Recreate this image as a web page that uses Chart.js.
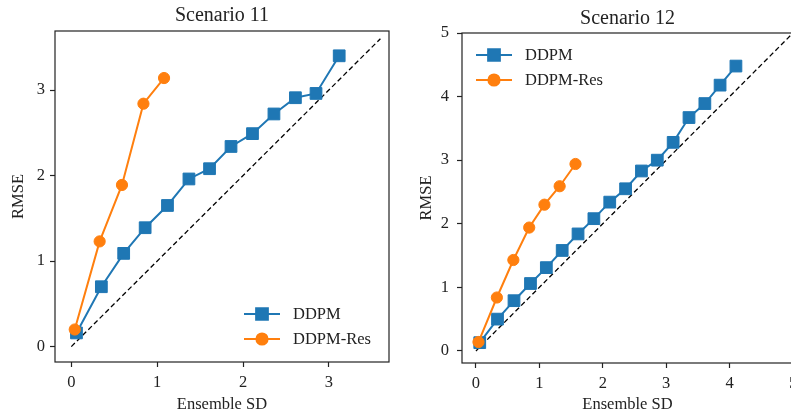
<!DOCTYPE html>
<html>
<head>
<meta charset="utf-8">
<script src="https://cdn.jsdelivr.net/npm/chart.js@4.4.1/dist/chart.umd.min.js"></script>
<style>
  html, body { margin: 0; padding: 0; background: #fff; overflow: hidden; }
  #wrap { position: relative; width: 791px; height: 413px; overflow: hidden; }
  canvas { position: absolute; top: 0; }
  #c11 { left: 0; }
  #c12 { left: 400px; }
</style>
</head>
<body>
<div id="wrap">
  <canvas id="c11" width="444" height="413"></canvas>
  <canvas id="c12" width="455" height="413"></canvas>
</div>
<script>
// Scenario 11
var s11SdDdpm   = [0.06, 0.35, 0.61, 0.86, 1.12, 1.37, 1.61, 1.86, 2.11, 2.36, 2.61, 2.85, 3.12];
var s11RmseDdpm = [0.16, 0.70, 1.09, 1.39, 1.65, 1.96, 2.08, 2.34, 2.49, 2.72, 2.91, 2.96, 3.40];
var s11SdRes    = [0.04, 0.33, 0.59, 0.84, 1.08];
var s11RmseRes  = [0.20, 1.23, 1.89, 2.84, 3.14];
var s11Diag     = [0, 3.6];
var s11XTicks   = [0, 1, 2, 3];
var s11YTicks   = [0, 1, 2, 3];

// Scenario 12
var s12SdDdpm   = [0.06, 0.34, 0.60, 0.86, 1.11, 1.36, 1.61, 1.86, 2.11, 2.36, 2.61, 2.86, 3.11, 3.36, 3.61, 3.85, 4.10];
var s12RmseDdpm = [0.13, 0.50, 0.79, 1.06, 1.31, 1.58, 1.84, 2.08, 2.34, 2.55, 2.83, 3.00, 3.28, 3.67, 3.89, 4.18, 4.48];
var s12SdRes    = [0.04, 0.33, 0.59, 0.84, 1.08, 1.32, 1.57];
var s12RmseRes  = [0.14, 0.84, 1.43, 1.94, 2.30, 2.59, 2.94];
var s12Diag     = [0, 5];
var s12XTicks   = [0, 1, 2, 3, 4, 5];
var s12YTicks   = [0, 1, 2, 3, 4, 5];

var seriesNames = ['DDPM', 'DDPM-Res'];
var blue = '#1f77b4', orange = '#ff7f0e';
var serif = "'Liberation Serif', 'Times New Roman', serif";

Chart.defaults.font.family = serif;
Chart.defaults.color = '#222';

function pts(xs, ys) {
  return xs.map(function(x, i){ return {x: x, y: ys[i]}; });
}

// box around the plot + line/marker legend like matplotlib
var boxLegend = {
  id: 'boxLegend',
  afterDraw: function(chart, args, opts) {
    var ctx = chart.ctx, a = chart.chartArea;
    ctx.save();
    ctx.strokeStyle = '#222';
    ctx.lineWidth = 1.2;
    ctx.strokeRect(a.left, a.top, a.right - a.left, a.bottom - a.top);

    var x0 = opts.corner === 'lower right' ? a.right + opts.dx : a.left + opts.dx;
    var y0 = opts.corner === 'lower right' ? a.bottom + opts.dy : a.top + opts.dy;
    var items = [
      {label: seriesNames[0], color: blue, style: 'rect', r: 8.3},
      {label: seriesNames[1], color: orange, style: 'circle', r: 5.6}
    ];
    items.forEach(function(it, i) {
      var y = y0 + i * 25;
      ctx.strokeStyle = it.color;
      ctx.lineWidth = 2;
      ctx.beginPath();
      ctx.moveTo(x0, y);
      ctx.lineTo(x0 + 36, y);
      ctx.stroke();
      ctx.fillStyle = it.color;
      Chart.helpers.drawPoint(ctx, {pointStyle: it.style, radius: it.r, borderWidth: 1}, x0 + 18, y);
      ctx.fill();
      ctx.fillStyle = '#222';
      ctx.font = '16.5px ' + serif;
      ctx.textBaseline = 'middle';
      ctx.textAlign = 'left';
      ctx.fillText(it.label, x0 + 49, y + 1);
    });
    ctx.restore();
  }
};

function makeChart(id, cfg) {
  var datasets = [
    {
      label: seriesNames[1], data: pts(cfg.sdRes, cfg.rmseRes), showLine: true,
      borderColor: orange, backgroundColor: orange, borderWidth: 2,
      pointStyle: 'circle', pointRadius: 5.6, pointBorderWidth: 1, pointBorderColor: orange
    },
    {
      label: seriesNames[0], data: pts(cfg.sdDdpm, cfg.rmseDdpm), showLine: true,
      borderColor: blue, backgroundColor: blue, borderWidth: 2,
      pointStyle: 'rect', pointRadius: 8.3, pointBorderWidth: 1, pointBorderColor: blue
    },
    {
      label: 'diag', data: pts(cfg.diag, cfg.diag), showLine: true,
      borderColor: '#000', borderWidth: 1.3, borderDash: [5, 3], pointRadius: 0
    }
  ];

  var tickFont = {size: 16.5, family: serif};

  return new Chart(document.getElementById(id), {
    type: 'scatter',
    data: {datasets: datasets},
    options: {
      responsive: false,
      animation: false,
      layout: {padding: {left: 0, right: 0, top: 0, bottom: 0}},
      plugins: {
        legend: {display: false},
        tooltip: {enabled: false},
        title: {
          display: true, text: cfg.title, color: '#222',
          font: {size: 20, weight: 'normal', family: serif},
          padding: cfg.titlePad
        },
        boxLegend: cfg.legend
      },
      scales: {
        x: {
          type: 'linear', min: cfg.xMin, max: cfg.xMax,
          afterFit: function(s){ s.height = cfg.xHeight; },
          afterBuildTicks: function(s){ s.ticks = cfg.xTicks.map(function(v){ return {value: v}; }); },
          border: {display: false},
          grid: {drawOnChartArea: false, drawTicks: true, tickLength: 5, tickColor: '#222', tickWidth: 1.2},
          ticks: {font: tickFont, color: '#222', padding: 6, autoSkip: false, maxRotation: 0},
          title: {display: true, text: 'Ensemble SD', font: tickFont, color: '#222', padding: {top: 0, bottom: -2}}
        },
        y: {
          type: 'linear', min: cfg.yMin, max: cfg.yMax,
          afterFit: function(s){ s.width = cfg.yWidth; },
          afterBuildTicks: function(s){ s.ticks = cfg.yTicks.map(function(v){ return {value: v}; }); },
          border: {display: false},
          grid: {drawOnChartArea: false, drawTicks: true, tickLength: 5, tickColor: '#222', tickWidth: 1.2},
          ticks: {font: tickFont, color: '#222', padding: cfg.yTickPad, autoSkip: false},
          title: {display: true, text: 'RMSE', font: tickFont, color: '#222', padding: {top: cfg.yTitlePad, bottom: 0}}
        },
        // empty right axis, same width as the left one, so the title centres over the plot
        yPad: {
          type: 'linear', position: 'right', min: cfg.yMin, max: cfg.yMax,
          afterFit: function(s){ s.width = cfg.yWidth; },
          border: {display: false},
          grid: {display: false},
          ticks: {display: false}
        }
      }
    },
    plugins: [boxLegend]
  });
}

makeChart('c11', {
  title: 'Scenario 11',
  sdDdpm: s11SdDdpm, rmseDdpm: s11RmseDdpm, sdRes: s11SdRes, rmseRes: s11RmseRes, diag: s11Diag,
  xTicks: s11XTicks, yTicks: s11YTicks,
  xMin: -0.19, xMax: 3.70, yMin: -0.18, yMax: 3.69,
  xHeight: 51, yWidth: 55, yTickPad: 5, yTitlePad: 9,
  titlePad: {top: 4, bottom: 3},
  legend: {corner: 'lower right', dx: -145, dy: -48}
});

makeChart('c12', {
  title: 'Scenario 12',
  sdDdpm: s12SdDdpm, rmseDdpm: s12RmseDdpm, sdRes: s12SdRes, rmseRes: s12RmseRes, diag: s12Diag,
  xTicks: s12XTicks, yTicks: s12YTicks,
  xMin: -0.22, xMax: 5.0, yMin: -0.19, yMax: 5.0,
  xHeight: 50, yWidth: 62, yTickPad: 8, yTitlePad: 17,
  titlePad: {top: 7, bottom: 2},
  legend: {corner: 'upper left', dx: 14, dy: 22}
});
</script>
</body>
</html>
